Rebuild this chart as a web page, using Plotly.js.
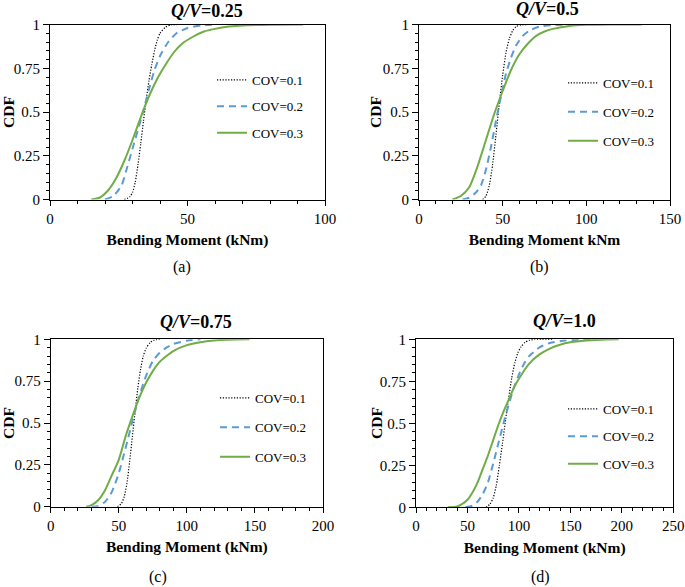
<!DOCTYPE html>
<html>
<head>
<meta charset="utf-8">
<script src="https://cdn.plot.ly/plotly-3.0.1.min.js"></script>
<style>html,body{margin:0;padding:0;background:#fff;}#chart{width:685px;height:587px;}</style>
</head>
<body>
<div id="chart"></div>
<script>
// ---- Data (Bending moment kNm vs CDF) ----
const seriesNames = ["COV=0.1", "COV=0.2", "COV=0.3"];
const panelTitles = ["Q/V=0.25", "Q/V=0.5", "Q/V=0.75", "Q/V=1.0"];
const panelLetters = ["(a)", "(b)", "(c)", "(d)"];
const xTitles = ["Bending Moment (kNm)", "Bending Moment kNm", "Bending Moment (kNm)", "Bending Moment (kNm)"];
const xMax = [100, 150, 200, 250];
const yTicks = [0, 0.25, 0.5, 0.75, 1];

// (a) Q/V = 0.25
const xA1 = [27, 29, 30, 31, 32, 33, 34, 35, 36, 37, 38, 39, 40, 42, 44, 48];
const yA1 = [0, 0.015, 0.04, 0.1, 0.2, 0.32, 0.45, 0.57, 0.68, 0.77, 0.85, 0.91, 0.95, 0.985, 0.998, 1];
const xA2 = [20, 23, 26, 28, 30, 32, 34, 36, 38, 40, 43, 46, 50, 55, 60];
const yA2 = [0, 0.02, 0.08, 0.18, 0.29, 0.4, 0.51, 0.63, 0.74, 0.82, 0.9, 0.95, 0.98, 0.995, 1];
const xA3 = [15, 18, 21, 24, 27, 30, 33, 36, 39, 42, 45, 48, 52, 56, 60, 65, 70, 80, 92];
const yA3 = [0, 0.01, 0.05, 0.12, 0.22, 0.34, 0.47, 0.59, 0.69, 0.77, 0.84, 0.89, 0.93, 0.96, 0.975, 0.988, 0.995, 0.999, 1];

// (b) Q/V = 0.5
const xB1 = [38, 40, 42, 44, 46, 48, 50, 52, 54, 56, 58, 61, 65];
const yB1 = [0, 0.02, 0.08, 0.2, 0.37, 0.55, 0.71, 0.84, 0.92, 0.965, 0.988, 0.998, 1];
const xB2 = [26, 30, 34, 37, 40, 43, 46, 49, 52, 55, 58, 62, 66, 72, 80, 90];
const yB2 = [0, 0.01, 0.04, 0.08, 0.17, 0.3, 0.45, 0.59, 0.72, 0.81, 0.88, 0.935, 0.965, 0.988, 0.997, 1];
const xB3 = [20, 25, 30, 35, 40, 45, 50, 55, 60, 65, 70, 75, 80, 90, 100, 115, 133];
const yB3 = [0, 0.02, 0.07, 0.19, 0.34, 0.49, 0.62, 0.74, 0.83, 0.89, 0.935, 0.96, 0.975, 0.992, 0.998, 1, 1];

// (c) Q/V = 0.75
const xC1 = [49, 52, 54, 56, 58, 60, 62, 64, 66, 68, 70, 73, 76, 80];
const yC1 = [0, 0.02, 0.06, 0.14, 0.27, 0.42, 0.57, 0.71, 0.82, 0.9, 0.945, 0.98, 0.995, 1];
const xC2 = [30, 35, 40, 45, 50, 55, 60, 65, 70, 75, 80, 85, 90, 100, 110];
const yC2 = [0, 0.005, 0.03, 0.09, 0.2, 0.35, 0.51, 0.66, 0.78, 0.87, 0.92, 0.95, 0.972, 0.992, 1];
const xC3 = [26, 30, 35, 40, 45, 50, 55, 60, 65, 70, 75, 80, 90, 100, 110, 120, 130, 146];
const yC3 = [0, 0.01, 0.04, 0.1, 0.19, 0.28, 0.42, 0.54, 0.65, 0.74, 0.81, 0.865, 0.93, 0.965, 0.983, 0.993, 0.998, 1];

// (d) Q/V = 1.0
const xD1 = [68, 72, 75, 78, 81, 84, 87, 90, 93, 96, 99, 102, 106, 110, 115, 133];
const yD1 = [0, 0.02, 0.055, 0.13, 0.25, 0.38, 0.52, 0.65, 0.77, 0.86, 0.92, 0.955, 0.982, 0.994, 0.999, 1];
const xD2 = [48, 55, 60, 65, 70, 75, 80, 85, 90, 95, 100, 105, 110, 120, 130, 145, 160, 172];
const yD2 = [0, 0.01, 0.035, 0.08, 0.15, 0.26, 0.38, 0.5, 0.61, 0.71, 0.79, 0.855, 0.9, 0.952, 0.978, 0.993, 0.998, 1];
const xD3 = [31, 40, 45, 50, 55, 60, 65, 70, 75, 80, 85, 90, 95, 100, 110, 120, 130, 140, 150, 165, 180, 197];
const yD3 = [0, 0.005, 0.02, 0.045, 0.09, 0.15, 0.23, 0.31, 0.4, 0.49, 0.57, 0.64, 0.71, 0.765, 0.855, 0.91, 0.945, 0.968, 0.982, 0.993, 0.998, 1];

const panelData = [
  [[xA1, yA1], [xA2, yA2], [xA3, yA3]],
  [[xB1, yB1], [xB2, yB2], [xB3, yB3]],
  [[xC1, yC1], [xC2, yC2], [xC3, yC3]],
  [[xD1, yD1], [xD2, yD2], [xD3, yD3]]
];

// ---- Styling / layout ----
const W = 685, H = 587;
const FONT = '"Liberation Serif", serif';
const lineStyles = [
  {color: "#000000", width: 1.2, dash: "1.2px,1.6px"},
  {color: "#5B9BD5", width: 2, dash: "7px,5px"},
  {color: "#70AD47", width: 2, dash: "solid"}
];
// pixel boxes of plot areas [left, right, top, bottom]
const boxes = [
  [50, 325, 24.5, 199.5],
  [419, 670, 24.5, 199.5],
  [50.7, 323, 339.3, 506.7],
  [416, 673.3, 339.3, 507.3]
];
// legend [x of line start, y of first item, gap]
const legendPos = [
  [224, 77, 6.5],
  [575, 80, 9],
  [227, 395, 9.5],
  [575, 406, 7.5]
];
const titlePos = [[207, 11], [547, 9], [196, 322], [564, 321]];
const letterPos = [[182, 267], [539, 267], [158, 577], [540, 577]];
const yTitlePos = [[8, 112], [375, 112], [8, 423], [376, 423]];

const traces = [];
const layout = {
  width: W, height: H,
  margin: {l: 0, r: 0, t: 0, b: 0},
  paper_bgcolor: "#ffffff", plot_bgcolor: "#ffffff",
  font: {family: FONT, size: 15, color: "#000"},
  showlegend: true,
  annotations: []
};

for (let p = 0; p < 4; p++) {
  const sfx = p === 0 ? "" : String(p + 1);
  const legName = "legend" + sfx;
  for (let s = 0; s < 3; s++) {
    traces.push({
      type: "scatter", mode: "lines",
      x: panelData[p][s][0], y: panelData[p][s][1],
      name: seriesNames[s],
      line: Object.assign({shape: "spline", smoothing: 0.6}, lineStyles[s]),
      xaxis: "x" + sfx, yaxis: "y" + sfx,
      legend: legName, legendgroup: "g" + p + "_" + s,
      hoverinfo: "x+y"
    });
  }
  const b = boxes[p];
  layout["xaxis" + sfx] = {
    domain: [b[0] / W, b[1] / W],
    anchor: "y" + sfx,
    range: [0, xMax[p]], dtick: 50, tick0: 0,
    showgrid: false, zeroline: false,
    showline: true, linecolor: "#000", linewidth: 1, mirror: true,
    ticks: "outside", ticklen: 5, tickcolor: "#000", tickwidth: 1,
    minor: {dtick: 10, ticks: "outside", ticklen: 3, tickcolor: "#000", showgrid: false},
    tickfont: {family: FONT, size: 15, color: "#000"},
    title: {text: "<b>" + xTitles[p] + "</b>", font: {family: FONT, size: 15.5, color: "#000"}, standoff: 8},
    fixedrange: true
  };
  layout["yaxis" + sfx] = {
    domain: [1 - b[3] / H, 1 - b[2] / H],
    anchor: "x" + sfx,
    range: [0, 1], tickvals: yTicks,
    showgrid: false, zeroline: false,
    showline: true, linecolor: "#000", linewidth: 1, mirror: true,
    ticks: "outside", ticklen: 6, tickcolor: "#000", tickwidth: 1,
    minor: {dtick: 0.05, tick0: 0, ticks: "outside", ticklen: 3, tickcolor: "#000", showgrid: false},
    tickfont: {family: FONT, size: 15, color: "#000"},
    fixedrange: true
  };
  const lp = legendPos[p];
  layout[legName] = {
    x: (lp[0] - 12) / W, xanchor: "left",
    y: 1 - (lp[1] - 12) / H, yanchor: "top",
    bgcolor: "rgba(0,0,0,0)", borderwidth: 0,
    font: {family: FONT, size: 13, color: "#000"},
    traceorder: "grouped", tracegroupgap: lp[2],
    itemclick: false, itemdoubleclick: false
  };
  layout.annotations.push({
    xref: "paper", yref: "paper",
    x: titlePos[p][0] / W, y: 1 - titlePos[p][1] / H,
    xanchor: "center", yanchor: "middle", showarrow: false,
    text: "<b><i>Q/V</i>=" + panelTitles[p].split("=")[1] + "</b>",
    font: {family: FONT, size: 18, color: "#000"}
  });
  layout.annotations.push({
    xref: "paper", yref: "paper",
    x: letterPos[p][0] / W, y: 1 - letterPos[p][1] / H,
    xanchor: "center", yanchor: "middle", showarrow: false,
    text: panelLetters[p],
    font: {family: FONT, size: 16, color: "#000"}
  });
  layout.annotations.push({
    xref: "paper", yref: "paper",
    x: yTitlePos[p][0] / W, y: 1 - yTitlePos[p][1] / H,
    xanchor: "center", yanchor: "middle", showarrow: false,
    textangle: -90,
    text: "<b>CDF</b>",
    font: {family: FONT, size: 15.5, color: "#000"}
  });
}

Plotly.newPlot("chart", traces, layout, {staticPlot: true, displayModeBar: false});
</script>
</body>
</html>
